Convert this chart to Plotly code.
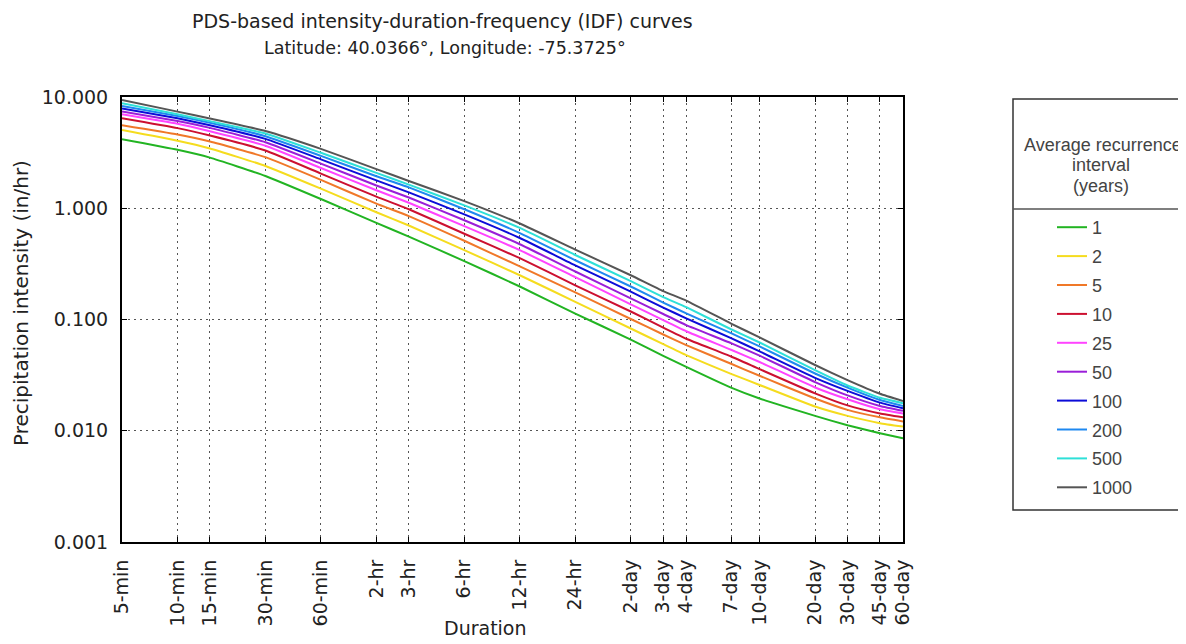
import plotly.graph_objects as go

# ---------------- data ----------------
durations_min = [5, 10, 15, 30, 60, 120, 180, 360, 720, 1440,
                 2880, 4320, 5760, 10080, 14400, 28800, 43200, 64800, 86400]
duration_labels = ["5-min", "10-min", "15-min", "30-min", "60-min", "2-hr", "3-hr",
                   "6-hr", "12-hr", "24-hr", "2-day", "3-day", "4-day", "7-day",
                   "10-day", "20-day", "30-day", "45-day", "60-day"]

ari_1 = [4.17, 3.35, 2.85, 1.95, 1.21, 0.74, 0.555, 0.335, 0.198, 0.113, 0.066, 0.0471, 0.0375, 0.0244, 0.0195, 0.0136, 0.0112, 0.0095, 0.00855]
ari_2 = [5.05, 4.05, 3.45, 2.40, 1.50, 0.92, 0.70, 0.42, 0.25, 0.144, 0.083, 0.060, 0.0478, 0.0325, 0.0258, 0.0165, 0.0136, 0.0117, 0.0109]
ari_5 = [5.57, 4.60, 3.98, 2.88, 1.80, 1.10, 0.85, 0.51, 0.30, 0.175, 0.101, 0.0733, 0.0588, 0.0400, 0.0312, 0.0195, 0.0154, 0.0132, 0.0121]
ari_10 = [6.44, 5.25, 4.50, 3.30, 2.05, 1.27, 0.98, 0.59, 0.356, 0.203, 0.118, 0.0846, 0.0672, 0.0465, 0.0358, 0.0217, 0.0169, 0.0143, 0.0132]
ari_25 = [7.0, 5.75, 4.92, 3.65, 2.30, 1.45, 1.12, 0.69, 0.42, 0.24, 0.137, 0.0986, 0.0784, 0.0535, 0.0415, 0.0245, 0.0192, 0.0156, 0.0143]
ari_50 = [7.41, 6.08, 5.28, 3.92, 2.52, 1.60, 1.25, 0.78, 0.475, 0.27, 0.155, 0.112, 0.089, 0.0613, 0.0473, 0.0274, 0.0208, 0.0167, 0.0151]
ari_100 = [7.87, 6.43, 5.58, 4.20, 2.75, 1.78, 1.39, 0.88, 0.54, 0.307, 0.178, 0.128, 0.1025, 0.068, 0.0517, 0.0299, 0.0228, 0.0179, 0.0159]
ari_200 = [8.3, 6.75, 5.87, 4.44, 2.96, 1.94, 1.54, 0.98, 0.598, 0.341, 0.198, 0.142, 0.1135, 0.0753, 0.0573, 0.0327, 0.0244, 0.0189, 0.0167]
ari_500 = [8.77, 7.0, 6.07, 4.70, 3.15, 2.08, 1.63, 1.06, 0.665, 0.38, 0.221, 0.159, 0.129, 0.0817, 0.0621, 0.035, 0.0255, 0.0198, 0.0177]
ari_1000 = [9.4, 7.39, 6.4, 4.95, 3.42, 2.25, 1.76, 1.16, 0.73, 0.425, 0.25, 0.180, 0.148, 0.092, 0.069, 0.039, 0.0285, 0.0215, 0.0185]

ari_names = ["1", "2", "5", "10", "25", "50", "100", "200", "500", "1000"]
ari_series = [ari_1, ari_2, ari_5, ari_10, ari_25, ari_50, ari_100, ari_200, ari_500, ari_1000]
ari_colors = ["#22b422", "#f5dc1e", "#f07828", "#cc1030", "#ff44ff",
              "#9a1ed8", "#0c0cd8", "#1e88f0", "#2ee0d8", "#555555"]

y_tickvals = [0.001, 0.01, 0.1, 1, 10]
y_ticktext = ["0.001", "0.010", "0.100", "1.000", "10.000"]

# ---------------- geometry (reference pixel coords; page body adds 8px) ----------------
OFF = 8
W, H = 1186 - OFF, 644 - OFF
L, R, T, B = 122, 903, 97, 542   # plot edges in reference coords


def px(x):
    return (x - L) / (R - L)


def py(y):
    return (B - y) / (B - T)


fig = go.Figure()
for name, vals, col in zip(ari_names, ari_series, ari_colors):
    fig.add_trace(go.Scatter(
        x=durations_min, y=vals, mode="lines", name=name,
        line=dict(color=col, width=2, shape="spline", smoothing=0.4),
        legendgroup=name,
    ))

FONT = "DejaVu Sans"
axis_common = dict(
    showline=True, linecolor="black", linewidth=2, mirror="ticks",
    ticks="inside", ticklen=5, tickwidth=1, tickcolor="black",
    showgrid=True, gridcolor="#555555", gridwidth=1, griddash="2px,4px",
    zeroline=False, ticklabelstandoff=8,
    tickfont=dict(family=FONT, size=19, color="#222"),
)

fig.update_xaxes(
    type="log", range=[0.69897, 4.936514],
    tickmode="array", tickvals=durations_min, ticktext=duration_labels,
    tickangle=-90, **axis_common,
)
fig.update_yaxes(
    type="log", range=[-3, 1],
    tickmode="array", tickvals=y_tickvals, ticktext=y_ticktext,
    **axis_common,
)

shapes = [
    dict(type="rect", xref="paper", yref="paper",
         x0=px(1013), x1=px(1200), y0=py(510), y1=py(99),
         line=dict(color="#333", width=1.5), fillcolor="rgba(0,0,0,0)"),
    dict(type="line", xref="paper", yref="paper",
         x0=px(1013), x1=px(1200), y0=py(209), y1=py(209),
         line=dict(color="#555", width=1.5)),
]

LEG_FONT = dict(family="Liberation Sans", size=18, color="#444")
annotations = [
    dict(text="PDS-based intensity-duration-frequency (IDF) curves", xref="paper", yref="paper",
         x=px(442), y=py(21), xanchor="center", yanchor="middle", showarrow=False,
         font=dict(family=FONT, size=19, color="#222")),
    dict(text="Latitude: 40.0366°, Longitude: -75.3725°", xref="paper", yref="paper",
         x=px(445), y=py(48), xanchor="center", yanchor="middle", showarrow=False,
         font=dict(family=FONT, size=17.5, color="#222")),
    dict(text="Duration", xref="paper", yref="paper", x=px(485), y=py(628),
         xanchor="center", yanchor="middle", showarrow=False,
         font=dict(family=FONT, size=19, color="#222")),
    dict(text="Precipitation intensity (in/hr)", xref="paper", yref="paper",
         x=px(21), y=py(303), xanchor="center", yanchor="middle", showarrow=False,
         textangle=-90, font=dict(family=FONT, size=20, color="#222")),
    dict(text="Average recurrence", xref="paper", yref="paper",
         x=px(1103), y=py(145), xanchor="center", yanchor="middle", showarrow=False,
         font=LEG_FONT),
    dict(text="interval", xref="paper", yref="paper",
         x=px(1101), y=py(165), xanchor="center", yanchor="middle", showarrow=False,
         font=LEG_FONT),
    dict(text="(years)", xref="paper", yref="paper",
         x=px(1101), y=py(186), xanchor="center", yanchor="middle", showarrow=False,
         font=LEG_FONT),
]

fig.update_layout(
    width=W, height=H,
    margin=dict(l=L - OFF, r=W - (R - OFF), t=T - OFF, b=H - (B - OFF), autoexpand=False),
    paper_bgcolor="white", plot_bgcolor="white",
    showlegend=True,
    legend=dict(
        x=px(1052), y=py(209), xanchor="left", yanchor="top",
        xref="paper", yref="paper",
        bgcolor="rgba(0,0,0,0)", borderwidth=0,
        font=LEG_FONT, tracegroupgap=2.5, itemwidth=30,
    ),
    shapes=shapes,
    annotations=annotations,
)

fig.write_html("out.html")
